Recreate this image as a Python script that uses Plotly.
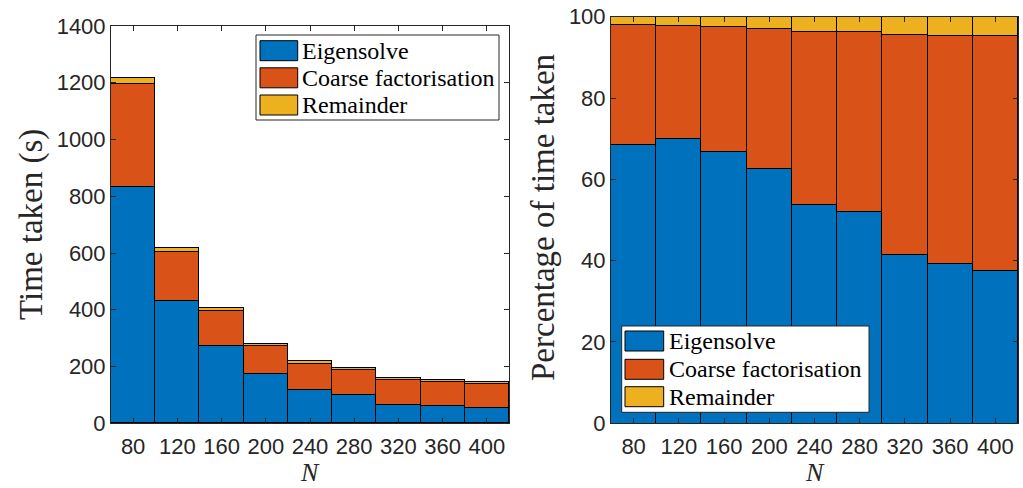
import plotly.graph_objects as go

# ---------------- data ----------------
N = [80, 120, 160, 200, 240, 280, 320, 360, 400]
series_names = ["Eigensolve", "Coarse factorisation", "Remainder"]
eigensolve = [834, 432, 271, 175, 117, 101, 66, 60, 55]
coarse = [361, 172, 125, 96, 93, 86, 86, 86, 85]
remainder = [23, 13, 10, 8, 8, 7, 7, 7, 7]
colors = ["#0072BD", "#D95319", "#EDB120"]

series = [eigensolve, coarse, remainder]
totals = [sum(v) for v in zip(*series)]
percent = [[100.0 * v / t for v, t in zip(s, totals)] for s in series]

W, H = 1023, 488
def px(x): return x / W
def py(y): return 1 - y / H

fig = go.Figure()
for name, vals, pvals, col in zip(series_names, series, percent, colors):
    fig.add_trace(go.Bar(x=N, y=vals, width=40, name=name, showlegend=False,
                         marker=dict(color=col, line=dict(color="black", width=1)),
                         xaxis="x", yaxis="y"))
    fig.add_trace(go.Bar(x=N, y=pvals, width=40, name=name, showlegend=False,
                         marker=dict(color=col, line=dict(color="black", width=1)),
                         xaxis="x2", yaxis="y2"))

tickfont = dict(family="Liberation Sans", size=22, color="#262626")
axcommon = dict(showline=True, mirror="ticks", linecolor="#262626", linewidth=1,
                ticks="inside", ticklen=5, tickcolor="#262626", tickwidth=1,
                showgrid=False, zeroline=False, tickfont=tickfont, automargin=False)
xextra = dict(ticklabelstandoff=3)

fig.update_layout(
    width=W, height=H, margin=dict(l=0, r=0, t=0, b=0, autoexpand=False),
    paper_bgcolor="white", plot_bgcolor="white",
    barmode="stack", bargap=0, showlegend=False,
    xaxis=dict(domain=[px(111), px(509)], range=[60, 420], tickvals=N, anchor="y", **axcommon, **xextra),
    yaxis=dict(domain=[py(423.3), py(26)], range=[0, 1400], dtick=200, anchor="x", **axcommon),
    xaxis2=dict(domain=[px(611), px(1018)], range=[60, 420], tickvals=N, anchor="y2", **axcommon, **xextra),
    yaxis2=dict(domain=[py(423.3), py(16.7)], range=[0, 100], dtick=20, anchor="x2", **axcommon),
)

serif = "Liberation Serif"
ann = []
shapes = []
# axis titles
ann.append(dict(x=px(31), y=py(225), text="Time taken (s)", textangle=-90, showarrow=False,
                xref="paper", yref="paper", xanchor="center", yanchor="middle",
                font=dict(family=serif, size=33, color="#262626")))
ann.append(dict(x=px(543), y=py(218), text="Percentage of time taken", textangle=-90, showarrow=False,
                xref="paper", yref="paper", xanchor="center", yanchor="middle",
                font=dict(family=serif, size=33, color="#262626")))
for cx in (310, 815):
    ann.append(dict(x=px(cx), y=py(472), text="<i>N</i>", showarrow=False,
                    xref="paper", yref="paper", xanchor="center", yanchor="middle",
                    font=dict(family=serif, size=26, color="#262626")))

# custom legends (box, swatches, labels)
legends = [
    dict(box=(256, 35, 499, 120), sw=(260, 297.7), rows=[50.7, 77.8, 105], tx=300),
    dict(box=(621.7, 326, 869, 412.3), sw=(625, 663.7), rows=[341, 369.3, 396.7], tx=666.5),
]
for lg in legends:
    x0, y0, x1, y1 = lg["box"]
    shapes.append(dict(type="rect", xref="paper", yref="paper", layer="above",
                       x0=px(x0), x1=px(x1), y0=py(y1), y1=py(y0),
                       fillcolor="white", line=dict(color="#262626", width=1)))
    for name, col, ry in zip(series_names, colors, lg["rows"]):
        shapes.append(dict(type="rect", xref="paper", yref="paper", layer="above",
                           x0=px(lg["sw"][0]), x1=px(lg["sw"][1]), y0=py(ry + 10), y1=py(ry - 10),
                           fillcolor=col, line=dict(color="black", width=1)))
        ann.append(dict(x=px(lg["tx"]), y=py(ry), text=name, showarrow=False,
                        xref="paper", yref="paper", xanchor="left", yanchor="middle",
                        font=dict(family=serif, size=24, color="black")))

fig.update_layout(annotations=ann, shapes=shapes)
fig.write_html("out.html", post_script="document.body.style.margin='0';",
               config={"displayModeBar": False})
